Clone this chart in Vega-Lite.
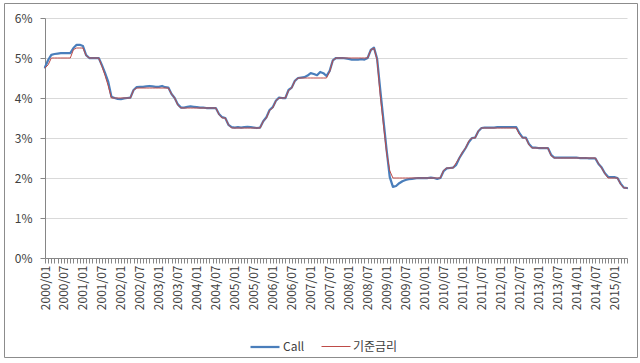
{
  "$schema": "https://vega.github.io/schema/vega-lite/v6.json",
  "autosize": "none",
  "width": 633,
  "height": 354,
  "padding": {"left": 4, "top": 3, "right": 3, "bottom": 6},
  "background": "white",
  "config": {
    "font": "Noto Sans CJK KR",
    "view": {"stroke": "#8c8c8c", "strokeWidth": 1}
  },
  "data": {
    "values": [
      {"m": "2000/01", "Call": 4.77, "기준금리": 4.75},
      {"m": "2000/02", "Call": 4.95, "기준금리": 4.83},
      {"m": "2000/03", "Call": 5.08, "기준금리": 5.0},
      {"m": "2000/04", "Call": 5.10, "기준금리": 5.0},
      {"m": "2000/05", "Call": 5.11, "기준금리": 5.0},
      {"m": "2000/06", "Call": 5.12, "기준금리": 5.0},
      {"m": "2000/07", "Call": 5.12, "기준금리": 5.0},
      {"m": "2000/08", "Call": 5.12, "기준금리": 5.0},
      {"m": "2000/09", "Call": 5.12, "기준금리": 5.0},
      {"m": "2000/10", "Call": 5.25, "기준금리": 5.21},
      {"m": "2000/11", "Call": 5.33, "기준금리": 5.25},
      {"m": "2000/12", "Call": 5.33, "기준금리": 5.25},
      {"m": "2001/01", "Call": 5.30, "기준금리": 5.25},
      {"m": "2001/02", "Call": 5.07, "기준금리": 5.06},
      {"m": "2001/03", "Call": 5.0, "기준금리": 5.0},
      {"m": "2001/04", "Call": 5.0, "기준금리": 5.0},
      {"m": "2001/05", "Call": 5.0, "기준금리": 5.0},
      {"m": "2001/06", "Call": 5.0, "기준금리": 5.0},
      {"m": "2001/07", "Call": 4.82, "기준금리": 4.79},
      {"m": "2001/08", "Call": 4.62, "기준금리": 4.56},
      {"m": "2001/09", "Call": 4.40, "기준금리": 4.30},
      {"m": "2001/10", "Call": 4.03, "기준금리": 4.0},
      {"m": "2001/11", "Call": 4.0, "기준금리": 4.0},
      {"m": "2001/12", "Call": 3.98, "기준금리": 4.0},
      {"m": "2002/01", "Call": 3.97, "기준금리": 4.0},
      {"m": "2002/02", "Call": 3.99, "기준금리": 4.0},
      {"m": "2002/03", "Call": 4.0, "기준금리": 4.0},
      {"m": "2002/04", "Call": 4.01, "기준금리": 4.0},
      {"m": "2002/05", "Call": 4.20, "기준금리": 4.20},
      {"m": "2002/06", "Call": 4.27, "기준금리": 4.25},
      {"m": "2002/07", "Call": 4.28, "기준금리": 4.25},
      {"m": "2002/08", "Call": 4.28, "기준금리": 4.25},
      {"m": "2002/09", "Call": 4.29, "기준금리": 4.25},
      {"m": "2002/10", "Call": 4.30, "기준금리": 4.25},
      {"m": "2002/11", "Call": 4.29, "기준금리": 4.25},
      {"m": "2002/12", "Call": 4.28, "기준금리": 4.25},
      {"m": "2003/01", "Call": 4.28, "기준금리": 4.25},
      {"m": "2003/02", "Call": 4.30, "기준금리": 4.25},
      {"m": "2003/03", "Call": 4.27, "기준금리": 4.25},
      {"m": "2003/04", "Call": 4.26, "기준금리": 4.25},
      {"m": "2003/05", "Call": 4.10, "기준금리": 4.10},
      {"m": "2003/06", "Call": 4.0, "기준금리": 4.0},
      {"m": "2003/07", "Call": 3.84, "기준금리": 3.82},
      {"m": "2003/08", "Call": 3.76, "기준금리": 3.75},
      {"m": "2003/09", "Call": 3.76, "기준금리": 3.75},
      {"m": "2003/10", "Call": 3.78, "기준금리": 3.75},
      {"m": "2003/11", "Call": 3.79, "기준금리": 3.75},
      {"m": "2003/12", "Call": 3.78, "기준금리": 3.75},
      {"m": "2004/01", "Call": 3.77, "기준금리": 3.75},
      {"m": "2004/02", "Call": 3.76, "기준금리": 3.75},
      {"m": "2004/03", "Call": 3.76, "기준금리": 3.75},
      {"m": "2004/04", "Call": 3.75, "기준금리": 3.75},
      {"m": "2004/05", "Call": 3.75, "기준금리": 3.75},
      {"m": "2004/06", "Call": 3.75, "기준금리": 3.75},
      {"m": "2004/07", "Call": 3.75, "기준금리": 3.75},
      {"m": "2004/08", "Call": 3.60, "기준금리": 3.59},
      {"m": "2004/09", "Call": 3.52, "기준금리": 3.5},
      {"m": "2004/10", "Call": 3.50, "기준금리": 3.5},
      {"m": "2004/11", "Call": 3.33, "기준금리": 3.33},
      {"m": "2004/12", "Call": 3.27, "기준금리": 3.25},
      {"m": "2005/01", "Call": 3.26, "기준금리": 3.25},
      {"m": "2005/02", "Call": 3.27, "기준금리": 3.25},
      {"m": "2005/03", "Call": 3.26, "기준금리": 3.25},
      {"m": "2005/04", "Call": 3.27, "기준금리": 3.25},
      {"m": "2005/05", "Call": 3.28, "기준금리": 3.25},
      {"m": "2005/06", "Call": 3.27, "기준금리": 3.25},
      {"m": "2005/07", "Call": 3.26, "기준금리": 3.25},
      {"m": "2005/08", "Call": 3.25, "기준금리": 3.25},
      {"m": "2005/09", "Call": 3.26, "기준금리": 3.25},
      {"m": "2005/10", "Call": 3.42, "기준금리": 3.42},
      {"m": "2005/11", "Call": 3.52, "기준금리": 3.5},
      {"m": "2005/12", "Call": 3.70, "기준금리": 3.69},
      {"m": "2006/01", "Call": 3.77, "기준금리": 3.75},
      {"m": "2006/02", "Call": 3.93, "기준금리": 3.93},
      {"m": "2006/03", "Call": 4.01, "기준금리": 4.0},
      {"m": "2006/04", "Call": 4.0, "기준금리": 4.0},
      {"m": "2006/05", "Call": 4.0, "기준금리": 4.0},
      {"m": "2006/06", "Call": 4.20, "기준금리": 4.19},
      {"m": "2006/07", "Call": 4.26, "기준금리": 4.25},
      {"m": "2006/08", "Call": 4.43, "기준금리": 4.43},
      {"m": "2006/09", "Call": 4.50, "기준금리": 4.5},
      {"m": "2006/10", "Call": 4.51, "기준금리": 4.5},
      {"m": "2006/11", "Call": 4.52, "기준금리": 4.5},
      {"m": "2006/12", "Call": 4.56, "기준금리": 4.5},
      {"m": "2007/01", "Call": 4.62, "기준금리": 4.5},
      {"m": "2007/02", "Call": 4.60, "기준금리": 4.5},
      {"m": "2007/03", "Call": 4.57, "기준금리": 4.5},
      {"m": "2007/04", "Call": 4.65, "기준금리": 4.5},
      {"m": "2007/05", "Call": 4.62, "기준금리": 4.5},
      {"m": "2007/06", "Call": 4.55, "기준금리": 4.5},
      {"m": "2007/07", "Call": 4.68, "기준금리": 4.66},
      {"m": "2007/08", "Call": 4.94, "기준금리": 4.94},
      {"m": "2007/09", "Call": 5.0, "기준금리": 5.0},
      {"m": "2007/10", "Call": 5.0, "기준금리": 5.0},
      {"m": "2007/11", "Call": 5.0, "기준금리": 5.0},
      {"m": "2007/12", "Call": 4.99, "기준금리": 5.0},
      {"m": "2008/01", "Call": 4.98, "기준금리": 5.0},
      {"m": "2008/02", "Call": 4.96, "기준금리": 5.0},
      {"m": "2008/03", "Call": 4.96, "기준금리": 5.0},
      {"m": "2008/04", "Call": 4.96, "기준금리": 5.0},
      {"m": "2008/05", "Call": 4.97, "기준금리": 5.0},
      {"m": "2008/06", "Call": 4.96, "기준금리": 5.0},
      {"m": "2008/07", "Call": 5.0, "기준금리": 5.0},
      {"m": "2008/08", "Call": 5.20, "기준금리": 5.2},
      {"m": "2008/09", "Call": 5.26, "기준금리": 5.25},
      {"m": "2008/10", "Call": 4.98, "기준금리": 4.95},
      {"m": "2008/11", "Call": 4.20, "기준금리": 4.05},
      {"m": "2008/12", "Call": 3.45, "기준금리": 3.33},
      {"m": "2009/01", "Call": 2.70, "기준금리": 2.63},
      {"m": "2009/02", "Call": 2.02, "기준금리": 2.18},
      {"m": "2009/03", "Call": 1.78, "기준금리": 2.0},
      {"m": "2009/04", "Call": 1.80, "기준금리": 2.0},
      {"m": "2009/05", "Call": 1.87, "기준금리": 2.0},
      {"m": "2009/06", "Call": 1.92, "기준금리": 2.0},
      {"m": "2009/07", "Call": 1.95, "기준금리": 2.0},
      {"m": "2009/08", "Call": 1.97, "기준금리": 2.0},
      {"m": "2009/09", "Call": 1.98, "기준금리": 2.0},
      {"m": "2009/10", "Call": 1.99, "기준금리": 2.0},
      {"m": "2009/11", "Call": 2.0, "기준금리": 2.0},
      {"m": "2009/12", "Call": 2.0, "기준금리": 2.0},
      {"m": "2010/01", "Call": 2.0, "기준금리": 2.0},
      {"m": "2010/02", "Call": 2.0, "기준금리": 2.0},
      {"m": "2010/03", "Call": 2.01, "기준금리": 2.0},
      {"m": "2010/04", "Call": 2.0, "기준금리": 2.0},
      {"m": "2010/05", "Call": 1.98, "기준금리": 2.0},
      {"m": "2010/06", "Call": 2.0, "기준금리": 2.0},
      {"m": "2010/07", "Call": 2.17, "기준금리": 2.19},
      {"m": "2010/08", "Call": 2.24, "기준금리": 2.25},
      {"m": "2010/09", "Call": 2.25, "기준금리": 2.25},
      {"m": "2010/10", "Call": 2.26, "기준금리": 2.25},
      {"m": "2010/11", "Call": 2.33, "기준금리": 2.38},
      {"m": "2010/12", "Call": 2.50, "기준금리": 2.5},
      {"m": "2011/01", "Call": 2.63, "기준금리": 2.65},
      {"m": "2011/02", "Call": 2.75, "기준금리": 2.75},
      {"m": "2011/03", "Call": 2.90, "기준금리": 2.93},
      {"m": "2011/04", "Call": 3.0, "기준금리": 3.0},
      {"m": "2011/05", "Call": 3.01, "기준금리": 3.0},
      {"m": "2011/06", "Call": 3.17, "기준금리": 3.18},
      {"m": "2011/07", "Call": 3.25, "기준금리": 3.25},
      {"m": "2011/08", "Call": 3.26, "기준금리": 3.25},
      {"m": "2011/09", "Call": 3.26, "기준금리": 3.25},
      {"m": "2011/10", "Call": 3.26, "기준금리": 3.25},
      {"m": "2011/11", "Call": 3.26, "기준금리": 3.25},
      {"m": "2011/12", "Call": 3.27, "기준금리": 3.25},
      {"m": "2012/01", "Call": 3.27, "기준금리": 3.25},
      {"m": "2012/02", "Call": 3.27, "기준금리": 3.25},
      {"m": "2012/03", "Call": 3.27, "기준금리": 3.25},
      {"m": "2012/04", "Call": 3.27, "기준금리": 3.25},
      {"m": "2012/05", "Call": 3.27, "기준금리": 3.25},
      {"m": "2012/06", "Call": 3.27, "기준금리": 3.25},
      {"m": "2012/07", "Call": 3.12, "기준금리": 3.09},
      {"m": "2012/08", "Call": 3.01, "기준금리": 3.0},
      {"m": "2012/09", "Call": 3.01, "기준금리": 3.0},
      {"m": "2012/10", "Call": 2.85, "기준금리": 2.83},
      {"m": "2012/11", "Call": 2.76, "기준금리": 2.75},
      {"m": "2012/12", "Call": 2.76, "기준금리": 2.75},
      {"m": "2013/01", "Call": 2.75, "기준금리": 2.75},
      {"m": "2013/02", "Call": 2.75, "기준금리": 2.75},
      {"m": "2013/03", "Call": 2.75, "기준금리": 2.75},
      {"m": "2013/04", "Call": 2.75, "기준금리": 2.75},
      {"m": "2013/05", "Call": 2.58, "기준금리": 2.56},
      {"m": "2013/06", "Call": 2.51, "기준금리": 2.5},
      {"m": "2013/07", "Call": 2.51, "기준금리": 2.5},
      {"m": "2013/08", "Call": 2.51, "기준금리": 2.5},
      {"m": "2013/09", "Call": 2.51, "기준금리": 2.5},
      {"m": "2013/10", "Call": 2.51, "기준금리": 2.5},
      {"m": "2013/11", "Call": 2.51, "기준금리": 2.5},
      {"m": "2013/12", "Call": 2.51, "기준금리": 2.5},
      {"m": "2014/01", "Call": 2.51, "기준금리": 2.5},
      {"m": "2014/02", "Call": 2.50, "기준금리": 2.5},
      {"m": "2014/03", "Call": 2.50, "기준금리": 2.5},
      {"m": "2014/04", "Call": 2.50, "기준금리": 2.5},
      {"m": "2014/05", "Call": 2.49, "기준금리": 2.5},
      {"m": "2014/06", "Call": 2.49, "기준금리": 2.5},
      {"m": "2014/07", "Call": 2.49, "기준금리": 2.5},
      {"m": "2014/08", "Call": 2.35, "기준금리": 2.36},
      {"m": "2014/09", "Call": 2.26, "기준금리": 2.25},
      {"m": "2014/10", "Call": 2.12, "기준금리": 2.11},
      {"m": "2014/11", "Call": 2.03, "기준금리": 2.0},
      {"m": "2014/12", "Call": 2.02, "기준금리": 2.0},
      {"m": "2015/01", "Call": 2.02, "기준금리": 2.0},
      {"m": "2015/02", "Call": 2.0, "기준금리": 2.0},
      {"m": "2015/03", "Call": 1.86, "기준금리": 1.84},
      {"m": "2015/04", "Call": 1.76, "기준금리": 1.75},
      {"m": "2015/05", "Call": 1.75, "기준금리": 1.75}
    ]
  },
  "transform": [
    {"fold": ["Call", "기준금리"], "as": ["series", "rate"]}
  ],
  "mark": {"type": "line", "strokeJoin": "round", "strokeCap": "round"},
  "encoding": {
    "x": {
      "field": "m",
      "type": "ordinal",
      "scale": {"type": "point", "padding": 0, "range": [41, 623]},
      "axis": {
        "title": null,
        "offset": -99,
        "labelAngle": 270,
        "labelExpr": "(slice(datum.value, 5) == '01' || slice(datum.value, 5) == '07') ? datum.value : ''",
        "labelOverlap": false,
        "labelFontSize": 12,
        "labelColor": "#404040",
        "labelPadding": 2,
        "tickSize": 5,
        "tickColor": "#868686",
        "domainColor": "#868686",
        "grid": false
      }
    },
    "y": {
      "field": "rate",
      "type": "quantitative",
      "scale": {"domain": [0, 6], "nice": false, "range": [255, 15]},
      "axis": {
        "title": null,
        "offset": -41,
        "values": [0, 1, 2, 3, 4, 5, 6],
        "labelExpr": "datum.value + '%'",
        "labelFontSize": 12,
        "labelColor": "#404040",
        "labelPadding": 8,
        "tickSize": 5,
        "tickColor": "#868686",
        "domainColor": "#868686",
        "gridColor": "#d9d9d9"
      }
    },
    "color": {
      "field": "series",
      "type": "nominal",
      "scale": {"domain": ["Call", "기준금리"], "range": ["#4a7ebb", "#be4b48"]},
      "legend": {
        "title": null,
        "orient": "none",
        "legendX": 245,
        "legendY": 328,
        "direction": "horizontal",
        "symbolType": "stroke",
        "symbolSize": 841,
        "labelFontSize": 12,
        "labelColor": "#404040",
        "columnPadding": 14,
        "labelOffset": 2
      }
    },
    "strokeWidth": {
      "field": "series",
      "type": "nominal",
      "scale": {"domain": ["Call", "기준금리"], "range": [2.25, 1]},
      "legend": null
    }
  }
}
